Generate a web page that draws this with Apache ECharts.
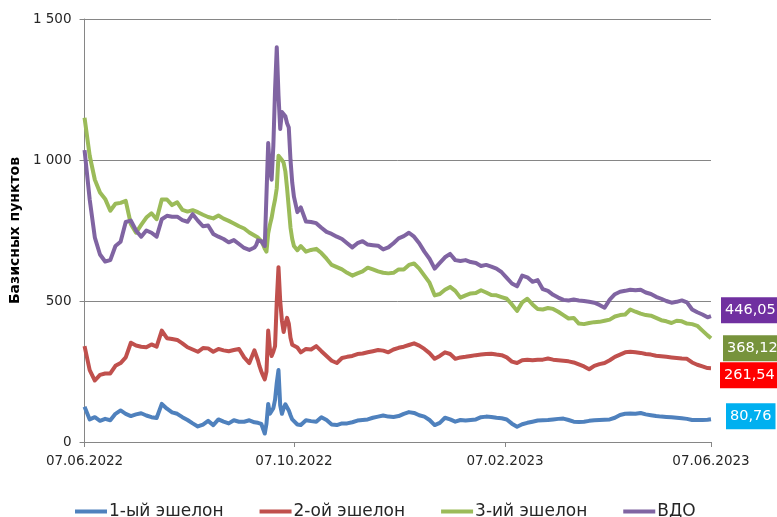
<!DOCTYPE html>
<html>
<head>
<meta charset="utf-8">
<script src="https://cdn.jsdelivr.net/npm/echarts@6.0.0/dist/echarts.min.js"></script>
<style>
html,body{margin:0;padding:0;background:#fff;}
#chart{width:777px;height:517px;}
</style>
</head>
<body>
<div id="chart"></div>
<script>
// Days since 07.06.2022
const days = [
  0,3,6,9,12,15,18,21,24,27,
  30,33,36,39,42,45,48,51,54,57,
  60,63,66,69,72,75,78,81,84,87,
  90,93,96,99,
  100,101,102,103,104,105,106,107,108,109,
  110,111,112,113,114,115,116,117,118,119,
  120,121,122,124,126,
  129,132,135,138,141,144,147,150,153,156,
  159,162,165,168,171,174,177,180,183,186,
  189,192,195,198,201,204,207,210,213,216,
  219,222,225,228,231,234,237,240,243,246,
  249,252,255,258,261,264,267,270,273,276,
  279,282,285,288,291,294,297,300,303,306,
  309,312,315,318,321,324,327,330,333,336,
  339,342,345,348,351,354,357,360,363,365
];
const tickDays = [0, 122, 245, 365];
const tickLabels = ['07.06.2022', '07.10.2022', '07.02.2023', '07.06.2023'];
const seriesNames = ['1-ый эшелон', '2-ой эшелон', '3-ий эшелон', 'ВДО'];

const echelon1 = [
  125,80,88,75,82,77,100,112,100,92,
  98,102,94,88,85,135,118,105,100,88,
  78,66,55,62,75,60,80,72,66,77,
  72,72,77,70,
  65,68,66,64,60,30,65,135,100,95,
  120,150,210,255,130,100,120,134,130,112,
  95,80,75,62,60,
  77,74,72,88,78,62,60,66,66,70,
  76,78,80,86,90,94,90,89,92,100,
  106,103,95,90,78,60,68,86,80,72,
  78,76,78,80,88,90,89,86,84,80,
  65,54,63,68,72,76,77,78,80,82,
  83,78,72,71,72,75,77,78,79,80,
  86,96,100,101,100,103,98,95,92,90,
  89,88,86,84,82,78,78,78,79,80.76
];
const echelon2 = [
  340,255,218,238,243,243,270,280,300,352,
  342,338,336,346,338,395,368,365,362,350,
  336,328,320,333,332,320,330,325,322,326,
  330,300,280,325,
  320,290,268,250,235,222,250,395,330,305,
  320,340,500,620,500,430,390,420,440,420,
  370,345,342,335,318,
  330,328,340,322,305,288,280,298,302,305,
  312,314,318,322,326,324,318,328,334,338,
  344,350,342,330,315,295,305,318,312,295,
  300,302,305,308,310,312,313,310,308,300,
  285,280,290,292,290,292,292,296,292,290,
  288,286,282,275,268,258,270,276,280,290,
  302,310,318,320,318,316,312,310,306,304,
  302,300,298,296,295,282,274,268,262,261.54
];
const echelon3 = [
  1150,1015,930,885,862,820,845,848,855,772,
  742,770,796,811,790,860,860,840,850,823,
  817,822,815,806,798,793,803,792,784,775,
  765,757,743,732,
  728,725,718,712,700,685,675,740,770,795,
  830,860,900,1015,1012,1000,990,960,900,830,
  760,720,695,680,695,
  675,681,685,670,650,628,620,612,600,590,
  598,605,618,612,605,600,598,600,612,612,
  628,633,615,590,565,520,525,540,550,536,
  512,520,527,528,538,530,521,520,514,508,
  488,465,495,508,488,472,470,475,472,462,
  450,438,440,420,418,422,425,426,430,434,
  445,450,452,470,462,455,450,448,440,432,
  428,422,430,428,420,418,412,395,378,368.12
];
const vdo = [
  1035,860,725,665,640,645,695,710,780,785,
  750,728,750,742,728,790,802,799,799,787,
  781,808,785,765,768,738,728,720,708,716,
  702,688,681,690,
  698,715,722,712,705,695,690,1060,965,930,
  1050,1250,1400,1230,1110,1170,1175,1155,1130,1115,
  1000,920,870,815,832,
  782,780,776,760,745,738,728,720,705,690,
  705,712,700,698,696,683,690,705,722,730,
  742,728,705,675,650,615,635,655,667,645,
  642,645,638,635,624,628,622,615,602,582,
  562,552,590,584,568,574,542,536,522,512,
  504,502,505,502,500,497,494,486,476,505,
  524,533,536,540,538,540,530,525,515,508,
  500,494,497,502,495,470,460,452,442,446.05
];

const lineColors = ['#4F81BD', '#C0504D', '#9BBB59', '#8064A2'];
const labelColors = ['#00B0F0', '#FF0000', '#77933C', '#7030A0'];
const labelOffsets = [[7, -3], [1, 7], [4, 10], [2, -6]];
const values = [echelon1, echelon2, echelon3, vdo];

const txt = '#262626';
const axisCol = '#868686';
const font = "'DejaVu Sans', 'Liberation Sans', sans-serif";

const fmtEnd = v => v.toFixed(2).replace('.', ',');
const fmtY = v => v >= 1000 ? String(v).replace(/(\d)(\d{3})$/, '$1 $2') : String(v);

const chart = echarts.init(document.getElementById('chart'), null, {renderer: 'canvas'});
chart.setOption({
  animation: false,
  backgroundColor: '#fff',
  textStyle: {fontFamily: font},
  grid: {left: 84, right: 66, top: 19, bottom: 75, containLabel: false},
  legend: {
    data: seriesNames,
    left: 70, top: 498,
    icon: 'rect', itemWidth: 32, itemHeight: 4, itemGap: 36,
    textStyle: {fontSize: 17, color: txt, fontFamily: font, padding: [0, 0, 0, -3]}
  },
  xAxis: {
    type: 'value', min: 0, max: 365,
    axisLine: {show: true, lineStyle: {color: axisCol, width: 1}},
    axisTick: {show: true, customValues: tickDays, length: 5, lineStyle: {color: axisCol}},
    axisLabel: {
      customValues: tickDays,
      formatter: v => tickLabels[tickDays.indexOf(v)] || '',
      margin: 12, fontSize: 13.5, color: txt, fontFamily: font
    },
    splitLine: {show: false}
  },
  yAxis: {
    type: 'value', min: 0, max: 1500, interval: 500,
    name: 'Базисных пунктов', nameLocation: 'middle', nameGap: 58,
    nameTextStyle: {fontWeight: 'bold', fontSize: 14, color: '#000', fontFamily: font},
    axisLine: {show: true, lineStyle: {color: axisCol, width: 1}},
    axisTick: {show: true, length: 5, lineStyle: {color: axisCol}},
    axisLabel: {formatter: fmtY, margin: 13, fontSize: 13.5, color: txt, fontFamily: font},
    splitLine: {show: true, lineStyle: {color: axisCol, width: 1}}
  },
  series: seriesNames.map((name, k) => ({
    name: name,
    type: 'line',
    data: days.map((d, i) => [d, values[k][i]]),
    showSymbol: false,
    symbol: 'none',
    lineStyle: {width: 4, color: lineColors[k], join: 'round'},
    itemStyle: {color: lineColors[k]},
    endLabel: {
      show: true,
      formatter: p => fmtEnd(p.value[1]),
      color: '#fff',
      backgroundColor: labelColors[k],
      fontSize: 14.5,
      lineHeight: 20,
      fontFamily: font,
      padding: [3, 4, 3, 4],
      offset: labelOffsets[k]
    }
  }))
});
</script>
</body>
</html>
